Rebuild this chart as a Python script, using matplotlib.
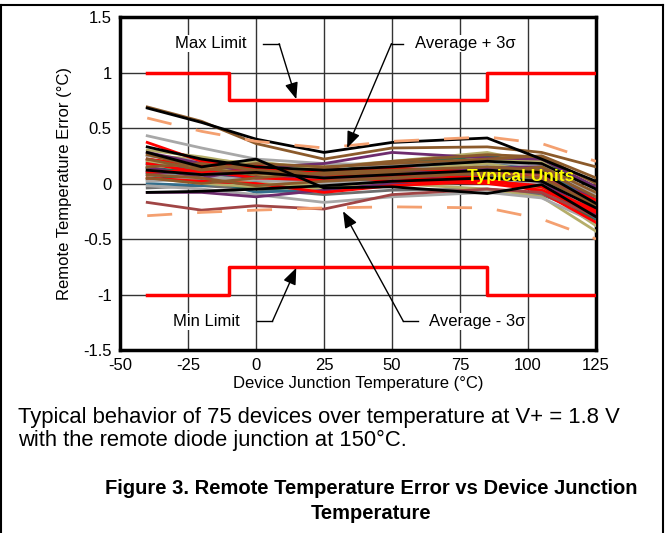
import matplotlib
matplotlib.use("Agg")
import matplotlib.pyplot as plt
from matplotlib.lines import Line2D

plt.rcParams['font.family'] = ['Liberation Sans', 'DejaVu Sans']
plt.rcParams['axes.unicode_minus'] = False

# temperatures where each unit was measured (deg C)
temps = [-40, -20, 0, 25, 50, 85, 105, 125]

# remote temperature error per unit, grouped by plot colour
black_units = [
    [0.68, 0.55, 0.40, 0.28, 0.37, 0.41, 0.22, 0.02],
    [0.28, 0.15, 0.22, -0.04, -0.03, -0.09, -0.01, -0.30],
    [0.12, 0.08, 0.10, 0.05, 0.08, 0.12, 0.10, -0.18],
    [-0.08, -0.07, -0.05, -0.02, 0.02, 0.05, 0.02, -0.22],
    [0.33, 0.22, 0.15, 0.12, 0.15, 0.20, 0.18, -0.05],
]
brown_units = [
    [0.69, 0.56, 0.36, 0.22, 0.32, 0.33, 0.28, 0.15],
    [0.22, 0.12, 0.18, 0.15, 0.18, 0.22, 0.25, 0.05],
    [0.05, 0.00, 0.05, 0.10, 0.12, 0.15, 0.12, -0.12],
    [0.15, 0.18, 0.12, 0.08, 0.10, 0.08, 0.05, -0.20],
    [0.08, 0.05, -0.02, 0.02, 0.05, 0.10, 0.15, -0.08],
    [0.26, 0.14, 0.08, 0.14, 0.20, 0.26, 0.24, 0.00],
]
red_units = [
    [0.37, 0.20, 0.14, 0.10, 0.05, 0.02, -0.03, -0.24],
    [0.18, 0.10, 0.12, 0.12, 0.14, 0.10, 0.05, -0.15],
    [0.05, 0.02, 0.00, -0.08, -0.02, 0.02, -0.02, -0.30],
    [0.10, 0.12, 0.05, 0.03, 0.08, 0.05, -0.08, -0.35],
    [0.22, 0.16, 0.16, 0.08, 0.02, 0.00, -0.06, -0.26],
]
gray_units = [
    [0.43, 0.32, 0.22, 0.18, 0.17, 0.20, 0.15, -0.10],
    [-0.02, -0.05, -0.10, -0.17, -0.12, -0.08, -0.13, -0.35],
    [0.02, 0.05, 0.03, 0.00, 0.02, 0.05, 0.00, -0.25],
    [0.25, 0.20, 0.15, 0.18, 0.15, 0.12, 0.08, -0.18],
    [0.08, 0.06, 0.04, 0.04, 0.08, 0.10, 0.06, -0.22],
]
khaki_units = [
    [0.25, 0.22, 0.18, 0.15, 0.20, 0.28, 0.18, -0.10],
    [0.12, 0.08, 0.00, -0.02, 0.00, -0.05, -0.12, -0.43],
    [0.20, 0.15, 0.08, 0.05, 0.12, 0.18, 0.10, -0.20],
    [0.05, 0.00, -0.03, -0.05, -0.02, 0.02, -0.05, -0.38],
    [0.15, 0.18, 0.20, 0.12, 0.08, 0.10, 0.05, -0.28],
    [0.30, 0.24, 0.16, 0.10, 0.16, 0.22, 0.20, -0.12],
]
teal_units = [
    [0.22, 0.15, 0.10, 0.08, 0.10, 0.15, 0.12, -0.15],
    [0.10, 0.05, -0.08, -0.05, 0.00, 0.02, -0.05, -0.30],
    [0.18, 0.12, 0.10, 0.02, 0.05, 0.08, 0.00, -0.32],
    [0.00, -0.02, 0.02, 0.05, 0.10, 0.08, 0.02, -0.25],
    [0.14, 0.06, 0.06, 0.10, 0.12, 0.20, 0.14, -0.20],
]
green_units = [
    [0.20, 0.18, 0.12, 0.10, 0.18, 0.25, 0.20, -0.05],
    [0.08, 0.02, -0.05, -0.03, 0.02, 0.05, 0.00, -0.28],
    [0.14, 0.10, 0.08, 0.12, 0.15, 0.12, 0.05, -0.22],
    [0.03, 0.04, 0.08, 0.06, 0.06, 0.04, -0.04, -0.34],
]
purple_units = [
    [-0.08, -0.08, -0.12, -0.06, 0.00, 0.05, 0.02, -0.28],
    [0.15, 0.05, 0.14, 0.18, 0.28, 0.23, 0.22, -0.03],
    [0.10, 0.10, 0.05, 0.07, 0.10, 0.14, 0.15, -0.15],
    [0.28, 0.18, 0.10, 0.06, 0.05, 0.08, 0.10, -0.20],
]
darkred_units = [
    [-0.17, -0.24, -0.20, -0.23, -0.10, -0.05, -0.08, -0.30],
    [0.12, 0.08, 0.12, 0.05, 0.05, 0.10, 0.08, -0.18],
]
darkgray_units = [
    [0.05, 0.02, 0.00, -0.02, 0.05, 0.05, 0.05, -0.20],
    [0.18, 0.14, 0.10, 0.10, 0.12, 0.18, 0.15, -0.10],
    [-0.04, -0.02, -0.05, -0.10, -0.06, -0.05, -0.10, -0.30],
]

# average +/- 3 sigma
avg_plus_3s = [0.59, 0.47, 0.38, 0.32, 0.38, 0.42, 0.36, 0.20]
avg_minus_3s = [-0.29, -0.26, -0.24, -0.22, -0.21, -0.22, -0.32, -0.50]

# spec limits (step)
limit_temps = [-40, -10, -10, 85, 85, 125]
max_limit = [1, 1, 0.75, 0.75, 1, 1]
min_limit = [-1, -1, -0.75, -0.75, -1, -1]

x_ticks = [-50, -25, 0, 25, 50, 75, 100, 125]
y_ticks = [-1.5, -1, -0.5, 0, 0.5, 1, 1.5]
y_labels = ['-1.5', '-1', '-0.5', '0', '0.5', '1', '1.5']

groups = [
    (darkgray_units, '#6e6e6e'),
    (teal_units, '#336e8c'),
    (green_units, '#2e6b50'),
    (khaki_units, '#b5ae6a'),
    (gray_units, '#a8a8a8'),
    (purple_units, '#6e2c6e'),
    (red_units, '#ff0000'),
    (darkred_units, '#a04545'),
    (brown_units, '#8b5a2b'),
    (black_units, '#000000'),
]

fig = plt.figure(figsize=(6.69, 5.33), dpi=100)
ax = fig.add_axes([0.1794, 0.3433, 0.7115, 0.6248])

for units, col in groups:
    for u in units:
        ax.plot(temps, u, color=col, lw=2, zorder=3)

ax.plot(temps, avg_plus_3s, color='#f4a070', lw=2, dashes=(9, 9), zorder=4)
ax.plot(temps, avg_minus_3s, color='#f4a070', lw=2, dashes=(9, 9), zorder=4)

ax.plot(limit_temps, max_limit, color='#ff0000', lw=2.5, zorder=5)
ax.plot(limit_temps, min_limit, color='#ff0000', lw=2.5, zorder=5)

ax.set_xlim(-50, 125)
ax.set_ylim(-1.5, 1.5)
ax.set_xticks(x_ticks)
ax.set_yticks(y_ticks)
ax.set_yticklabels(y_labels)
ax.tick_params(length=0, labelsize=12, pad=6)
ax.grid(True, color='#333333', lw=1)
ax.set_axisbelow(True)
for s in ax.spines.values():
    s.set_linewidth(2.5)

ax.set_xlabel('Device Junction Temperature (°C)', fontsize=12, labelpad=2)
ax.set_ylabel('Remote Temperature Error (°C)', fontsize=12, labelpad=8)

# annotations
box = dict(facecolor='white', edgecolor='none', pad=1)
ax.text(-16.5, 1.26, 'Max Limit', fontsize=12, ha='center', va='center', bbox=box, zorder=6)
ax.text(76.8, 1.26, 'Average + 3σ', fontsize=12, ha='center', va='center', bbox=box, zorder=6)
ax.text(-18.3, -1.243, 'Min Limit', fontsize=12, ha='center', va='center', bbox=box, zorder=6)
ax.text(81.3, -1.243, 'Average - 3σ', fontsize=12, ha='center', va='center', bbox=box, zorder=6)

arrow = dict(arrowstyle='-|>,head_length=1.0,head_width=0.4', color='black', lw=1,
             shrinkA=0, shrinkB=0)
for seg, tip in [((2.6, 8.5, 1.26), (14.8, 0.76)),
                 ((54.2, 49.8, 1.26), (33.5, 0.32)),
                 ((0.4, 6.0, -1.243), (14.8, -0.76)),
                 ((59.7, 54.2, -1.243), (32.0, -0.25))]:
    ax.plot([seg[0], seg[1]], [seg[2], seg[2]], color='black', lw=1, zorder=6)
    ax.annotate('', xy=tip, xytext=(seg[1], seg[2]), arrowprops=arrow, zorder=6)

ax.text(97.3, 0.063, 'Typical Units', fontsize=12.5, fontweight='bold', color='#ffff00',
        ha='center', va='center', zorder=7)

# captions
fig.text(0.027, 0.2176, 'Typical behavior of 75 devices over temperature at V+ = 1.8 V',
         fontsize=15.8, va='center')
fig.text(0.027, 0.1745, 'with the remote diode junction at 150°C.', fontsize=15.8, va='center')
fig.text(0.555, 0.0844, 'Figure 3. Remote Temperature Error vs Device Junction',
         fontsize=14.5, fontweight='bold', ha='center', va='center')
fig.text(0.555, 0.0375, 'Temperature', fontsize=14.5, fontweight='bold', ha='center', va='center')

# outer frame
for xs, ys in [([0.001, 0.001], [0, 0.9906]), ([0.001, 0.991], [0.9906, 0.9906]),
               ([0.991, 0.991], [0, 0.9906])]:
    fig.add_artist(Line2D(xs, ys, color='black', lw=1.5, transform=fig.transFigure))

fig.savefig('out.png', dpi=100)
